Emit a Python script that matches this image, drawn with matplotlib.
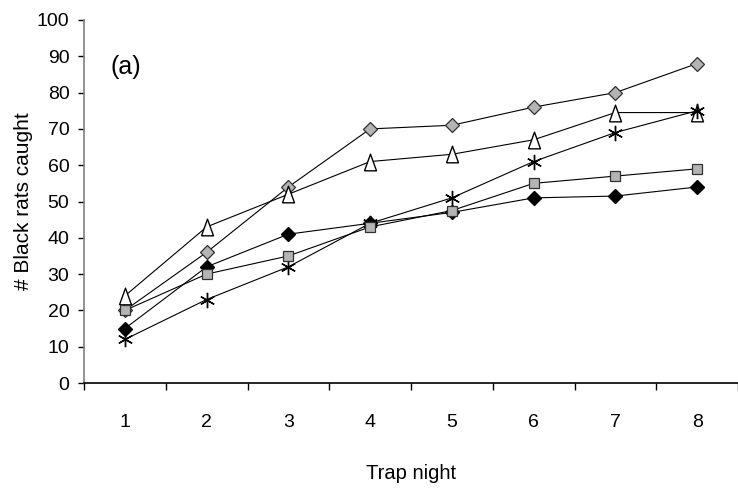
import matplotlib
matplotlib.use("Agg")
import matplotlib.pyplot as plt
from matplotlib.ticker import FixedLocator, NullFormatter

plt.rcParams['font.family'] = ['Liberation Sans', 'DejaVu Sans']

nights = [1, 2, 3, 4, 5, 6, 7, 8]
black_diamond = [15, 32, 41, 44, 47, 51, 51.5, 54]
gray_square = [20, 30, 35, 43, 47.5, 55, 57, 59]
white_triangle = [24, 43, 52, 61, 63, 67, 74.5, 74.5]
asterisk = [12, 23, 32, 44, 51, 61, 69, 75]
gray_diamond = [20, 36, 54, 70, 71, 76, 80, 88]
y_ticks = list(range(0, 101, 10))

fig = plt.figure(figsize=(7.38, 4.88), dpi=100)
ax = fig.add_axes([84 / 738, 1 - 383 / 488, 1 - 84 / 738, (383 - 20) / 488])

tri = [(-0.36, -0.5), (0.36, -0.5), (0.0, 0.5), (-0.36, -0.5)]

lw = 0.8
ax.plot(nights, gray_diamond, color='black', lw=lw, marker='D', ms=7.5,
        mfc='#b4b4b4', mec='#303030', mew=0.9, zorder=2)
ax.plot(nights, white_triangle, color='black', lw=lw, marker=tri, ms=12,
        mfc='white', mec='black', mew=1.0, zorder=3)
ax.plot(nights, asterisk, color='black', lw=lw, marker=(6, 2, 0), ms=11,
        mec='black', mew=1.0, zorder=4)
ax.plot(nights, black_diamond, color='black', lw=lw, marker='D', ms=7.5,
        mfc='black', mec='black', zorder=5)
ax.plot(nights, gray_square, color='black', lw=lw, marker='s', ms=7.5,
        mfc='#b4b4b4', mec='#303030', mew=0.9, zorder=6)

ax.set_xlim(0.5, 8.5)
ax.set_ylim(0, 100)

ax.xaxis.set_major_locator(FixedLocator([i + 0.5 for i in range(0, 9)]))
ax.xaxis.set_major_formatter(NullFormatter())
ax.xaxis.set_minor_locator(FixedLocator(nights))
ax.set_xticklabels([str(n) for n in nights], minor=True)
ax.tick_params(axis='x', which='major', direction='out', length=5, width=1, color='black')
ax.tick_params(axis='x', which='minor', length=0, pad=22, labelsize=14)

ax.set_yticks(y_ticks)
ax.set_yticklabels([str(v) for v in y_ticks])
ax.tick_params(axis='y', direction='out', length=4.5, width=1, color='black', labelsize=14, pad=6)

for s in ['top', 'right']:
    ax.spines[s].set_visible(False)
ax.spines['left'].set_color('#808080')
ax.spines['left'].set_linewidth(1.2)
ax.spines['bottom'].set_color('black')
ax.spines['bottom'].set_linewidth(1.2)

ax.set_xlabel('Trap night', fontsize=14.5, labelpad=24)
ax.set_ylabel('# Black rats caught', fontsize=15, labelpad=3)

ax.text(0.04, 0.87, '(a)', transform=ax.transAxes, fontsize=18, ha='left', va='center')

fig.savefig('out.png', dpi=100)
